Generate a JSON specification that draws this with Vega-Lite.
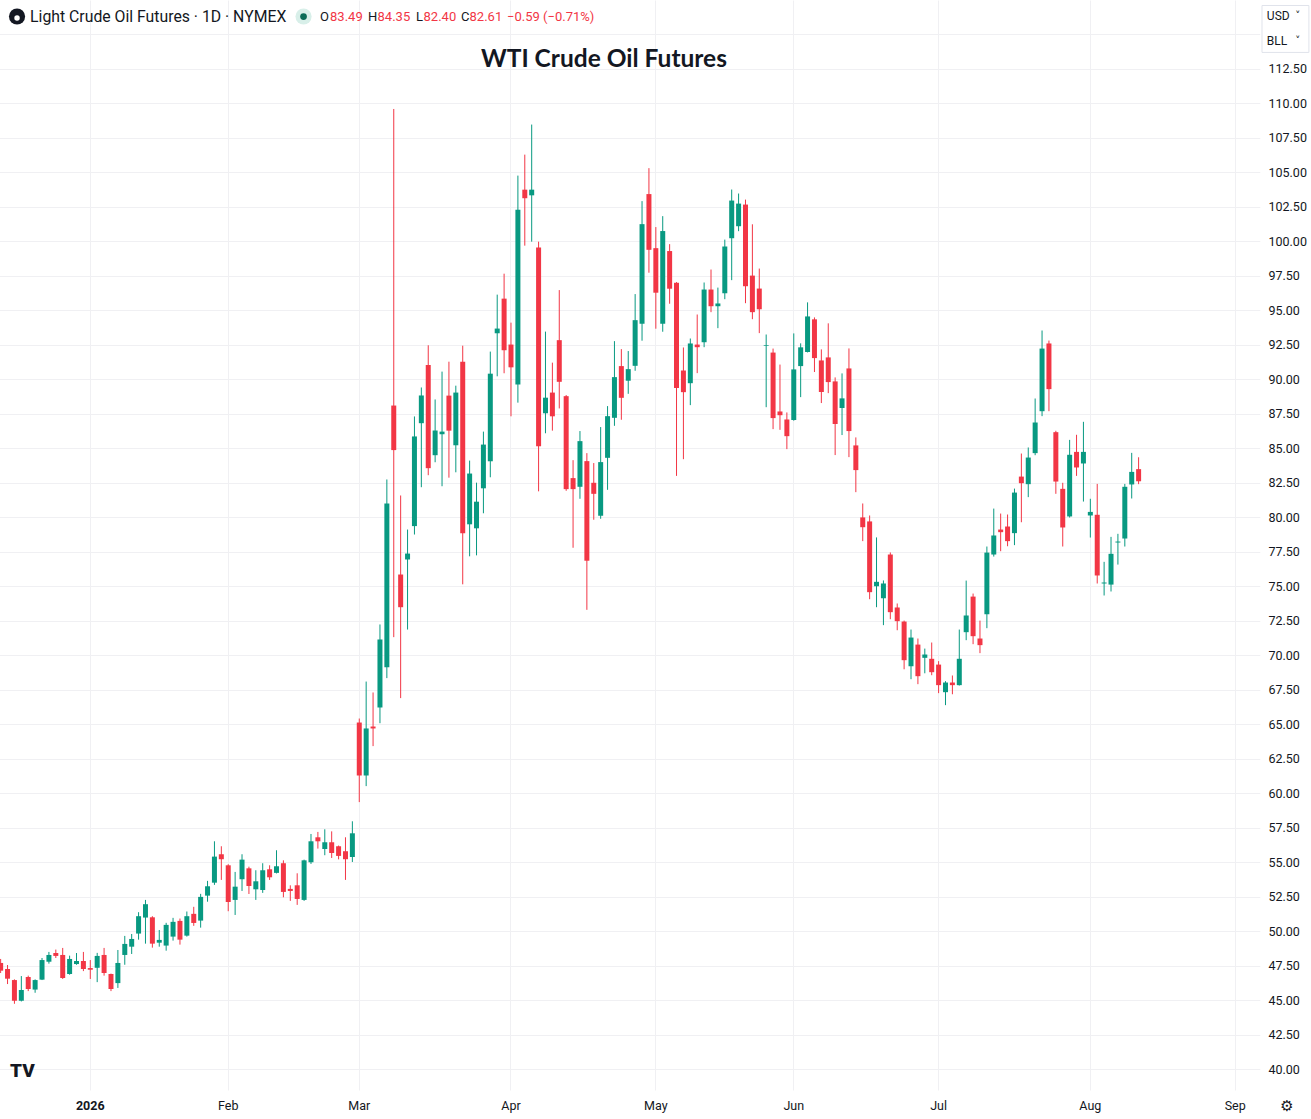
{
  "$schema": "https://vega.github.io/schema/vega-lite/v6.json",
  "width": 1257,
  "height": 1090,
  "autosize": {"type": "none"},
  "padding": {"left": 0, "top": 0, "right": 54, "bottom": 29},
  "background": "#ffffff",
  "config": {"view": {"stroke": null}, "font": "Roboto"},
  "data": {
    "values": [
      {"d": "2025-12-12", "o": 47.69, "h": 47.98, "l": 46.96, "c": 47.13},
      {"d": "2025-12-15", "o": 47.25, "h": 47.54, "l": 46.16, "c": 46.55},
      {"d": "2025-12-16", "o": 46.45, "h": 46.5, "l": 44.73, "c": 44.95},
      {"d": "2025-12-17", "o": 44.95, "h": 46.74, "l": 44.9, "c": 45.73},
      {"d": "2025-12-18", "o": 46.67, "h": 46.77, "l": 45.65, "c": 45.8},
      {"d": "2025-12-19", "o": 45.76, "h": 46.5, "l": 45.53, "c": 46.45},
      {"d": "2025-12-22", "o": 46.48, "h": 48.05, "l": 46.45, "c": 47.9},
      {"d": "2025-12-23", "o": 47.78, "h": 48.49, "l": 47.64, "c": 48.27},
      {"d": "2025-12-24", "o": 48.41, "h": 48.66, "l": 48.05, "c": 48.2},
      {"d": "2025-12-26", "o": 48.27, "h": 48.78, "l": 46.53, "c": 46.6},
      {"d": "2025-12-29", "o": 46.89, "h": 48.22, "l": 46.84, "c": 47.98},
      {"d": "2025-12-30", "o": 47.61, "h": 48.41, "l": 47.56, "c": 47.83},
      {"d": "2025-12-31", "o": 47.83, "h": 48.49, "l": 47.1, "c": 47.25},
      {"d": "2026-01-02", "o": 47.32, "h": 47.9, "l": 46.53, "c": 47.2},
      {"d": "2026-01-05", "o": 47.34, "h": 48.42, "l": 46.3, "c": 48.2},
      {"d": "2026-01-06", "o": 48.27, "h": 48.78, "l": 46.77, "c": 46.96},
      {"d": "2026-01-07", "o": 46.89, "h": 46.92, "l": 45.65, "c": 45.8},
      {"d": "2026-01-08", "o": 46.23, "h": 48.63, "l": 45.88, "c": 47.69},
      {"d": "2026-01-09", "o": 48.27, "h": 49.65, "l": 47.56, "c": 49.07},
      {"d": "2026-01-12", "o": 48.87, "h": 49.79, "l": 48.34, "c": 49.43},
      {"d": "2026-01-13", "o": 49.82, "h": 51.37, "l": 49.38, "c": 51.08},
      {"d": "2026-01-14", "o": 50.98, "h": 52.26, "l": 49.09, "c": 51.95},
      {"d": "2026-01-15", "o": 51.0, "h": 51.08, "l": 48.8, "c": 49.09},
      {"d": "2026-01-16", "o": 49.16, "h": 50.08, "l": 48.87, "c": 49.36},
      {"d": "2026-01-20", "o": 48.95, "h": 50.6, "l": 48.58, "c": 50.45},
      {"d": "2026-01-21", "o": 49.6, "h": 50.96, "l": 49.31, "c": 50.67},
      {"d": "2026-01-22", "o": 50.74, "h": 50.91, "l": 49.02, "c": 49.38},
      {"d": "2026-01-23", "o": 49.67, "h": 51.42, "l": 49.6, "c": 51.08},
      {"d": "2026-01-26", "o": 51.25, "h": 51.76, "l": 50.38, "c": 50.59},
      {"d": "2026-01-27", "o": 50.76, "h": 52.7, "l": 50.25, "c": 52.48},
      {"d": "2026-01-28", "o": 52.57, "h": 53.64, "l": 52.13, "c": 53.25},
      {"d": "2026-01-29", "o": 53.51, "h": 56.51, "l": 53.35, "c": 55.4},
      {"d": "2026-01-30", "o": 55.57, "h": 56.15, "l": 53.71, "c": 55.21},
      {"d": "2026-02-02", "o": 54.77, "h": 54.85, "l": 51.44, "c": 52.11},
      {"d": "2026-02-03", "o": 52.26, "h": 54.29, "l": 51.17, "c": 53.22},
      {"d": "2026-02-04", "o": 53.76, "h": 55.57, "l": 52.91, "c": 55.18},
      {"d": "2026-02-05", "o": 54.55, "h": 54.67, "l": 52.69, "c": 53.27},
      {"d": "2026-02-06", "o": 53.03, "h": 54.41, "l": 52.26, "c": 53.61},
      {"d": "2026-02-09", "o": 52.98, "h": 54.92, "l": 52.77, "c": 54.41},
      {"d": "2026-02-10", "o": 54.48, "h": 54.77, "l": 53.71, "c": 53.9},
      {"d": "2026-02-11", "o": 54.22, "h": 55.86, "l": 54.18, "c": 54.7},
      {"d": "2026-02-12", "o": 54.92, "h": 55.13, "l": 52.45, "c": 52.84},
      {"d": "2026-02-13", "o": 53.06, "h": 53.32, "l": 52.19, "c": 52.91},
      {"d": "2026-02-17", "o": 53.32, "h": 54.19, "l": 51.9, "c": 52.33},
      {"d": "2026-02-18", "o": 52.26, "h": 55.18, "l": 52.19, "c": 55.13},
      {"d": "2026-02-19", "o": 54.99, "h": 57.04, "l": 54.87, "c": 56.51},
      {"d": "2026-02-20", "o": 56.8, "h": 57.19, "l": 55.98, "c": 56.51},
      {"d": "2026-02-23", "o": 55.95, "h": 57.38, "l": 55.5, "c": 56.44},
      {"d": "2026-02-24", "o": 56.44, "h": 57.23, "l": 55.3, "c": 55.66},
      {"d": "2026-02-25", "o": 56.15, "h": 56.2, "l": 55.2, "c": 55.45},
      {"d": "2026-02-26", "o": 55.79, "h": 56.8, "l": 53.71, "c": 55.21},
      {"d": "2026-02-27", "o": 55.37, "h": 57.96, "l": 55.01, "c": 57.09},
      {"d": "2026-03-02", "o": 65.12, "h": 65.41, "l": 59.35, "c": 61.28},
      {"d": "2026-03-03", "o": 61.28, "h": 68.09, "l": 60.51, "c": 64.69},
      {"d": "2026-03-04", "o": 64.83, "h": 67.3, "l": 63.41, "c": 64.69},
      {"d": "2026-03-05", "o": 66.21, "h": 72.23, "l": 65.07, "c": 71.14},
      {"d": "2026-03-06", "o": 69.13, "h": 82.74, "l": 68.34, "c": 81.0},
      {"d": "2026-03-09", "o": 88.1, "h": 109.6, "l": 71.31, "c": 84.87},
      {"d": "2026-03-10", "o": 75.85, "h": 81.58, "l": 66.89, "c": 73.48},
      {"d": "2026-03-11", "o": 76.94, "h": 79.11, "l": 71.86, "c": 77.37},
      {"d": "2026-03-12", "o": 79.36, "h": 87.31, "l": 78.75, "c": 85.86},
      {"d": "2026-03-13", "o": 86.82, "h": 89.41, "l": 82.18, "c": 88.83},
      {"d": "2026-03-16", "o": 91.04, "h": 92.47, "l": 83.05, "c": 83.56},
      {"d": "2026-03-17", "o": 84.5, "h": 88.54, "l": 83.99, "c": 86.29},
      {"d": "2026-03-18", "o": 86.02, "h": 90.56, "l": 82.25, "c": 86.21},
      {"d": "2026-03-19", "o": 88.82, "h": 91.28, "l": 82.87, "c": 86.28},
      {"d": "2026-03-20", "o": 85.22, "h": 89.54, "l": 83.26, "c": 89.04},
      {"d": "2026-03-23", "o": 91.28, "h": 92.44, "l": 75.14, "c": 78.84},
      {"d": "2026-03-24", "o": 79.49, "h": 84.11, "l": 77.17, "c": 83.17},
      {"d": "2026-03-25", "o": 79.2, "h": 82.51, "l": 77.24, "c": 81.13},
      {"d": "2026-03-26", "o": 82.1, "h": 86.21, "l": 80.29, "c": 85.27},
      {"d": "2026-03-27", "o": 84.06, "h": 92.01, "l": 82.9, "c": 90.41},
      {"d": "2026-03-30", "o": 93.34, "h": 96.14, "l": 90.22, "c": 93.68},
      {"d": "2026-03-31", "o": 95.85, "h": 97.66, "l": 90.44, "c": 92.11},
      {"d": "2026-04-01", "o": 92.52, "h": 94.11, "l": 87.32, "c": 90.87},
      {"d": "2026-04-02", "o": 89.62, "h": 104.77, "l": 88.31, "c": 102.3},
      {"d": "2026-04-06", "o": 103.75, "h": 106.29, "l": 99.69, "c": 103.13},
      {"d": "2026-04-07", "o": 103.34, "h": 108.47, "l": 99.98, "c": 103.75},
      {"d": "2026-04-08", "o": 99.55, "h": 99.98, "l": 81.88, "c": 85.15},
      {"d": "2026-04-09", "o": 87.54, "h": 93.46, "l": 86.09, "c": 88.67},
      {"d": "2026-04-10", "o": 89.04, "h": 91.21, "l": 86.28, "c": 87.32},
      {"d": "2026-04-13", "o": 92.84, "h": 96.47, "l": 87.89, "c": 89.82},
      {"d": "2026-04-14", "o": 88.78, "h": 88.86, "l": 81.92, "c": 82.04},
      {"d": "2026-04-15", "o": 82.84, "h": 84.14, "l": 77.79, "c": 82.04},
      {"d": "2026-04-16", "o": 82.21, "h": 86.25, "l": 81.34, "c": 85.52},
      {"d": "2026-04-17", "o": 84.07, "h": 84.65, "l": 73.29, "c": 76.85},
      {"d": "2026-04-20", "o": 82.5, "h": 83.93, "l": 79.82, "c": 81.7},
      {"d": "2026-04-21", "o": 80.11, "h": 86.54, "l": 79.89, "c": 84.0},
      {"d": "2026-04-22", "o": 84.31, "h": 88.06, "l": 81.99, "c": 87.33},
      {"d": "2026-04-23", "o": 87.21, "h": 92.77, "l": 86.63, "c": 90.16},
      {"d": "2026-04-24", "o": 90.96, "h": 92.19, "l": 87.07, "c": 88.66},
      {"d": "2026-04-27", "o": 89.9, "h": 92.05, "l": 88.95, "c": 90.74},
      {"d": "2026-04-28", "o": 90.98, "h": 96.18, "l": 90.62, "c": 94.29},
      {"d": "2026-04-29", "o": 94.03, "h": 102.92, "l": 92.8, "c": 101.25},
      {"d": "2026-04-30", "o": 103.43, "h": 105.31, "l": 97.73, "c": 99.39},
      {"d": "2026-05-01", "o": 99.51, "h": 101.04, "l": 93.67, "c": 96.28},
      {"d": "2026-05-04", "o": 94.03, "h": 101.83, "l": 93.45, "c": 100.75},
      {"d": "2026-05-05", "o": 99.3, "h": 99.8, "l": 95.48, "c": 96.57},
      {"d": "2026-05-06", "o": 97.0, "h": 97.05, "l": 83.0, "c": 89.37},
      {"d": "2026-05-07", "o": 90.64, "h": 92.31, "l": 84.21, "c": 89.07},
      {"d": "2026-05-08", "o": 89.72, "h": 92.96, "l": 88.13, "c": 92.6},
      {"d": "2026-05-11", "o": 92.52, "h": 94.7, "l": 90.45, "c": 92.33},
      {"d": "2026-05-12", "o": 92.69, "h": 97.02, "l": 92.33, "c": 96.51},
      {"d": "2026-05-13", "o": 96.51, "h": 97.96, "l": 94.87, "c": 95.3},
      {"d": "2026-05-14", "o": 95.3, "h": 96.65, "l": 93.71, "c": 95.5},
      {"d": "2026-05-15", "o": 96.24, "h": 100.13, "l": 95.81, "c": 99.63},
      {"d": "2026-05-18", "o": 100.23, "h": 103.76, "l": 97.19, "c": 102.96},
      {"d": "2026-05-19", "o": 101.1, "h": 103.47, "l": 100.74, "c": 102.74},
      {"d": "2026-05-20", "o": 102.67, "h": 103.03, "l": 95.52, "c": 96.75},
      {"d": "2026-05-21", "o": 97.52, "h": 101.24, "l": 94.36, "c": 94.87},
      {"d": "2026-05-22", "o": 96.58, "h": 98.03, "l": 93.35, "c": 95.08},
      {"d": "2026-05-26", "o": 92.43, "h": 93.25, "l": 87.98, "c": 92.48},
      {"d": "2026-05-27", "o": 91.94, "h": 92.23, "l": 86.39, "c": 87.19},
      {"d": "2026-05-28", "o": 87.67, "h": 91.07, "l": 86.34, "c": 87.4},
      {"d": "2026-05-29", "o": 87.09, "h": 87.6, "l": 84.94, "c": 85.88},
      {"d": "2026-06-01", "o": 87.05, "h": 93.33, "l": 87.0, "c": 90.72},
      {"d": "2026-06-02", "o": 90.96, "h": 92.61, "l": 88.71, "c": 92.32},
      {"d": "2026-06-03", "o": 91.98, "h": 95.58, "l": 91.95, "c": 94.56},
      {"d": "2026-06-04", "o": 94.35, "h": 94.49, "l": 90.53, "c": 91.54},
      {"d": "2026-06-05", "o": 91.37, "h": 92.17, "l": 88.28, "c": 89.08},
      {"d": "2026-06-08", "o": 91.59, "h": 94.06, "l": 89.0, "c": 89.8},
      {"d": "2026-06-09", "o": 89.85, "h": 90.14, "l": 84.51, "c": 86.76},
      {"d": "2026-06-10", "o": 87.92, "h": 90.43, "l": 85.96, "c": 88.62},
      {"d": "2026-06-11", "o": 90.79, "h": 92.24, "l": 84.36, "c": 86.25},
      {"d": "2026-06-12", "o": 85.21, "h": 85.79, "l": 81.82, "c": 83.42},
      {"d": "2026-06-15", "o": 79.99, "h": 81.0, "l": 78.27, "c": 79.28},
      {"d": "2026-06-16", "o": 79.7, "h": 80.13, "l": 74.06, "c": 74.57},
      {"d": "2026-06-17", "o": 75.0, "h": 78.54, "l": 73.48, "c": 75.32},
      {"d": "2026-06-18", "o": 74.13, "h": 75.42, "l": 72.18, "c": 75.2},
      {"d": "2026-06-22", "o": 77.3, "h": 77.45, "l": 72.61, "c": 73.12},
      {"d": "2026-06-23", "o": 73.46, "h": 73.75, "l": 71.81, "c": 72.47},
      {"d": "2026-06-24", "o": 72.44, "h": 72.51, "l": 68.98, "c": 69.64},
      {"d": "2026-06-25", "o": 69.2, "h": 71.86, "l": 68.26, "c": 71.28},
      {"d": "2026-06-26", "o": 70.77, "h": 71.21, "l": 67.9, "c": 68.48},
      {"d": "2026-06-29", "o": 69.81, "h": 70.48, "l": 68.69, "c": 70.05},
      {"d": "2026-06-30", "o": 69.74, "h": 70.92, "l": 68.55, "c": 68.77},
      {"d": "2026-07-01", "o": 69.32, "h": 69.57, "l": 67.25, "c": 67.83},
      {"d": "2026-07-02", "o": 67.32, "h": 68.12, "l": 66.38, "c": 68.02},
      {"d": "2026-07-06", "o": 68.02, "h": 68.53, "l": 67.17, "c": 67.83},
      {"d": "2026-07-07", "o": 67.83, "h": 71.86, "l": 67.8, "c": 69.74},
      {"d": "2026-07-08", "o": 71.67, "h": 75.41, "l": 71.09, "c": 72.88},
      {"d": "2026-07-09", "o": 74.25, "h": 74.47, "l": 70.8, "c": 71.38},
      {"d": "2026-07-10", "o": 71.21, "h": 72.51, "l": 70.15, "c": 70.73},
      {"d": "2026-07-13", "o": 72.97, "h": 77.88, "l": 71.96, "c": 77.44},
      {"d": "2026-07-14", "o": 77.3, "h": 80.63, "l": 77.15, "c": 78.68},
      {"d": "2026-07-15", "o": 79.11, "h": 80.27, "l": 77.54, "c": 78.92},
      {"d": "2026-07-16", "o": 79.33, "h": 80.2, "l": 77.9, "c": 78.27},
      {"d": "2026-07-17", "o": 78.85, "h": 82.08, "l": 77.98, "c": 81.79},
      {"d": "2026-07-20", "o": 82.95, "h": 84.62, "l": 79.64, "c": 82.47},
      {"d": "2026-07-21", "o": 82.4, "h": 85.06, "l": 81.46, "c": 84.33},
      {"d": "2026-07-22", "o": 84.65, "h": 88.61, "l": 84.5, "c": 86.87},
      {"d": "2026-07-23", "o": 87.69, "h": 93.54, "l": 87.33, "c": 92.23},
      {"d": "2026-07-24", "o": 92.6, "h": 92.81, "l": 87.69, "c": 89.29},
      {"d": "2026-07-27", "o": 86.17, "h": 86.27, "l": 81.7, "c": 82.59},
      {"d": "2026-07-28", "o": 82.06, "h": 82.5, "l": 77.88, "c": 79.26},
      {"d": "2026-07-29", "o": 80.06, "h": 85.61, "l": 79.98, "c": 84.53},
      {"d": "2026-07-30", "o": 84.74, "h": 85.98, "l": 83.0, "c": 83.61},
      {"d": "2026-07-31", "o": 83.9, "h": 86.92, "l": 81.14, "c": 84.74},
      {"d": "2026-08-03", "o": 80.13, "h": 81.34, "l": 78.53, "c": 80.39},
      {"d": "2026-08-04", "o": 80.18, "h": 82.42, "l": 75.2, "c": 75.78},
      {"d": "2026-08-05", "o": 75.2, "h": 76.77, "l": 74.33, "c": 75.27},
      {"d": "2026-08-06", "o": 75.12, "h": 78.58, "l": 74.62, "c": 77.35},
      {"d": "2026-08-07", "o": 78.17, "h": 78.8, "l": 76.57, "c": 78.24},
      {"d": "2026-08-10", "o": 78.46, "h": 82.42, "l": 77.88, "c": 82.21},
      {"d": "2026-08-11", "o": 82.38, "h": 84.67, "l": 81.36, "c": 83.29},
      {"d": "2026-08-12", "o": 83.49, "h": 84.35, "l": 82.4, "c": 82.61}
    ]
  },
  "layer": [
    {
      "mark": {"type": "rule", "strokeWidth": 1},
      "encoding": {
        "x": {
          "field": "d",
          "type": "ordinal",
          "scale": {
            "type": "band",
            "domain": {"unionWith": ["2026-08-13", "2026-08-14", "2026-08-17", "2026-08-18", "2026-08-19", "2026-08-20", "2026-08-21", "2026-08-24", "2026-08-25", "2026-08-26", "2026-08-27", "2026-08-28", "2026-08-31", "2026-09-01", "2026-09-02", "2026-09-03", "2026-09-04"]},
            "range": [-2.81, 1259.3],
            "paddingInner": 0,
            "paddingOuter": 0
          },
          "axis": {
            "values": ["2026-01-02", "2026-02-02", "2026-03-02", "2026-04-01", "2026-05-01", "2026-06-01", "2026-07-01", "2026-08-03", "2026-09-01"],
            "labelExpr": "['2026','Feb','Mar','Apr','May','Jun','Jul','Aug','Sep'][indexof(['2026-01-02','2026-02-02','2026-03-02','2026-04-01','2026-05-01','2026-06-01','2026-07-01','2026-08-03','2026-09-01'], datum.value)]",
            "bandPosition": 0.5,
            "grid": true,
            "gridColor": "#f0f0f3",
            "domain": false,
            "ticks": false,
            "labelAngle": 0,
            "labelPadding": 9,
            "labelFont": "Roboto",
            "labelFontSize": 12.5,
            "labelColor": "#131722",
            "labelOverlap": false,
            "labelFontWeight": {"condition": {"test": "datum.value == '2026-01-02'", "value": "bold"}, "value": "normal"},
            "title": null
          }
        },
        "y": {
          "field": "l",
          "type": "quantitative",
          "scale": {"domain": [38.48, 117.5], "nice": false, "zero": false},
          "axis": {
            "orient": "right",
            "values": [40, 42.5, 45, 47.5, 50, 52.5, 55, 57.5, 60, 62.5, 65, 67.5, 70, 72.5, 75, 77.5, 80, 82.5, 85, 87.5, 90, 92.5, 95, 97.5, 100, 102.5, 105, 107.5, 110, 112.5, 115],
            "tickCount": 60,
            "labelExpr": "datum.value > 113 ? '' : format(datum.value, '.2f')",
            "labelOverlap": false,
            "grid": true,
            "gridColor": "#f0f0f3",
            "domain": false,
            "ticks": false,
            "labelPadding": 11,
            "labelFont": "Roboto",
            "labelFontSize": 12.5,
            "labelColor": "#131722",
            "title": null
          }
        },
        "y2": {"field": "h"},
        "color": {"condition": {"test": "datum.c >= datum.o", "value": "#089981"}, "value": "#f23645"}
      }
    },
    {
      "mark": {"type": "bar", "width": 5},
      "encoding": {
        "x": {"field": "d", "type": "ordinal"},
        "y": {"field": "o", "type": "quantitative"},
        "y2": {"field": "c"},
        "color": {"condition": {"test": "datum.c >= datum.o", "value": "#089981"}, "value": "#f23645"}
      }
    },
    {
      "data": {"values": [{}]},
      "mark": {"type": "text", "text": "WTI Crude Oil Futures", "align": "center", "baseline": "middle", "dx": 3.3, "font": "Lato", "fontSize": 24.5, "fontWeight": "bold", "color": "#131722"},
      "encoding": {"x": {"datum": "2026-04-21", "type": "ordinal"}, "y": {"datum": 113.15, "type": "quantitative"}}
    },
    {
      "data": {"values": [{}]},
      "mark": {"type": "point", "shape": "circle", "filled": true, "size": 260, "opacity": 1, "color": "#131722", "xOffset": 16.4},
      "encoding": {"x": {"datum": "2025-12-12", "type": "ordinal"}, "y": {"datum": 116.3, "type": "quantitative"}}
    },
    {
      "data": {"values": [{}]},
      "mark": {"type": "point", "shape": "circle", "filled": true, "size": 30, "opacity": 1, "color": "#ffffff", "xOffset": 16.4, "yOffset": 1.5},
      "encoding": {"x": {"datum": "2025-12-12", "type": "ordinal"}, "y": {"datum": 116.3, "type": "quantitative"}}
    },
    {
      "data": {"values": [{}]},
      "mark": {"type": "text", "text": "Light Crude Oil Futures · 1D · NYMEX", "align": "left", "baseline": "middle", "dx": 29.4, "font": "Roboto", "fontSize": 15.8, "color": "#131722"},
      "encoding": {"x": {"datum": "2025-12-12", "type": "ordinal"}, "y": {"datum": 116.3, "type": "quantitative"}}
    },
    {
      "data": {"values": [{}]},
      "mark": {"type": "point", "shape": "circle", "filled": true, "size": 260, "opacity": 1, "color": "#d8efe9", "xOffset": 302.9},
      "encoding": {"x": {"datum": "2025-12-12", "type": "ordinal"}, "y": {"datum": 116.3, "type": "quantitative"}}
    },
    {
      "data": {"values": [{}]},
      "mark": {"type": "point", "shape": "circle", "filled": true, "size": 45, "opacity": 1, "color": "#0b6b57", "xOffset": 302.9},
      "encoding": {"x": {"datum": "2025-12-12", "type": "ordinal"}, "y": {"datum": 116.3, "type": "quantitative"}}
    },
    {
      "data": {"values": [{}]},
      "mark": {"type": "text", "text": "O", "align": "left", "baseline": "middle", "dx": 319.4, "font": "Roboto", "fontSize": 13, "color": "#131722"},
      "encoding": {"x": {"datum": "2025-12-12", "type": "ordinal"}, "y": {"datum": 116.3, "type": "quantitative"}}
    },
    {
      "data": {"values": [{}]},
      "mark": {"type": "text", "text": "83.49", "align": "left", "baseline": "middle", "dx": 329.4, "font": "Roboto", "fontSize": 13, "color": "#f23645"},
      "encoding": {"x": {"datum": "2025-12-12", "type": "ordinal"}, "y": {"datum": 116.3, "type": "quantitative"}}
    },
    {
      "data": {"values": [{}]},
      "mark": {"type": "text", "text": "H", "align": "left", "baseline": "middle", "dx": 367.4, "font": "Roboto", "fontSize": 13, "color": "#131722"},
      "encoding": {"x": {"datum": "2025-12-12", "type": "ordinal"}, "y": {"datum": 116.3, "type": "quantitative"}}
    },
    {
      "data": {"values": [{}]},
      "mark": {"type": "text", "text": "84.35", "align": "left", "baseline": "middle", "dx": 376.9, "font": "Roboto", "fontSize": 13, "color": "#f23645"},
      "encoding": {"x": {"datum": "2025-12-12", "type": "ordinal"}, "y": {"datum": 116.3, "type": "quantitative"}}
    },
    {
      "data": {"values": [{}]},
      "mark": {"type": "text", "text": "L", "align": "left", "baseline": "middle", "dx": 415.4, "font": "Roboto", "fontSize": 13, "color": "#131722"},
      "encoding": {"x": {"datum": "2025-12-12", "type": "ordinal"}, "y": {"datum": 116.3, "type": "quantitative"}}
    },
    {
      "data": {"values": [{}]},
      "mark": {"type": "text", "text": "82.40", "align": "left", "baseline": "middle", "dx": 422.9, "font": "Roboto", "fontSize": 13, "color": "#f23645"},
      "encoding": {"x": {"datum": "2025-12-12", "type": "ordinal"}, "y": {"datum": 116.3, "type": "quantitative"}}
    },
    {
      "data": {"values": [{}]},
      "mark": {"type": "text", "text": "C", "align": "left", "baseline": "middle", "dx": 460.4, "font": "Roboto", "fontSize": 13, "color": "#131722"},
      "encoding": {"x": {"datum": "2025-12-12", "type": "ordinal"}, "y": {"datum": 116.3, "type": "quantitative"}}
    },
    {
      "data": {"values": [{}]},
      "mark": {"type": "text", "text": "82.61", "align": "left", "baseline": "middle", "dx": 468.9, "font": "Roboto", "fontSize": 13, "color": "#f23645"},
      "encoding": {"x": {"datum": "2025-12-12", "type": "ordinal"}, "y": {"datum": 116.3, "type": "quantitative"}}
    },
    {
      "data": {"values": [{}]},
      "mark": {"type": "text", "text": "−0.59 (−0.71%)", "align": "left", "baseline": "middle", "dx": 506.4, "font": "Roboto", "fontSize": 13, "color": "#f23645"},
      "encoding": {"x": {"datum": "2025-12-12", "type": "ordinal"}, "y": {"datum": 116.3, "type": "quantitative"}}
    },
    {
      "data": {"values": [{}]},
      "mark": {"type": "point", "shape": "square", "filled": true, "size": 2200, "opacity": 1, "fill": "#ffffff", "stroke": "#e0e3eb", "strokeWidth": 1, "xOffset": 29.6},
      "encoding": {"x": {"datum": "2026-09-04", "type": "ordinal"}, "y": {"datum": 115.4, "type": "quantitative"}}
    },
    {
      "data": {"values": [{}]},
      "mark": {"type": "text", "text": "USD", "align": "left", "baseline": "middle", "dx": 11, "font": "Roboto", "fontSize": 12, "color": "#131722"},
      "encoding": {"x": {"datum": "2026-09-04", "type": "ordinal"}, "y": {"datum": 116.34, "type": "quantitative"}}
    },
    {
      "data": {"values": [{}]},
      "mark": {"type": "text", "text": "BLL", "align": "left", "baseline": "middle", "dx": 11, "font": "Roboto", "fontSize": 12, "color": "#131722"},
      "encoding": {"x": {"datum": "2026-09-04", "type": "ordinal"}, "y": {"datum": 114.53, "type": "quantitative"}}
    },
    {
      "data": {"values": [{}]},
      "mark": {"type": "text", "text": "˅", "align": "center", "baseline": "middle", "dx": 42, "font": "DejaVu Sans", "fontSize": 10, "color": "#131722"},
      "encoding": {"x": {"datum": "2026-09-04", "type": "ordinal"}, "y": {"datum": 116.34, "type": "quantitative"}}
    },
    {
      "data": {"values": [{}]},
      "mark": {"type": "text", "text": "˅", "align": "center", "baseline": "middle", "dx": 42, "font": "DejaVu Sans", "fontSize": 10, "color": "#131722"},
      "encoding": {"x": {"datum": "2026-09-04", "type": "ordinal"}, "y": {"datum": 114.53, "type": "quantitative"}}
    },
    {
      "data": {"values": [{}]},
      "mark": {"type": "text", "text": "TV", "align": "left", "baseline": "middle", "dx": 9.4, "font": "Roboto", "fontSize": 19, "fontWeight": 900, "color": "#131722"},
      "encoding": {"x": {"datum": "2025-12-12", "type": "ordinal"}, "y": {"datum": 39.85, "type": "quantitative"}}
    },
    {
      "data": {"values": [{}]},
      "mark": {"type": "text", "text": "⚙", "align": "center", "baseline": "middle", "dx": 31.1, "font": "DejaVu Sans", "fontSize": 15, "color": "#131722"},
      "encoding": {"x": {"datum": "2026-09-04", "type": "ordinal"}, "y": {"datum": 37.32, "type": "quantitative"}}
    }
  ]
}
